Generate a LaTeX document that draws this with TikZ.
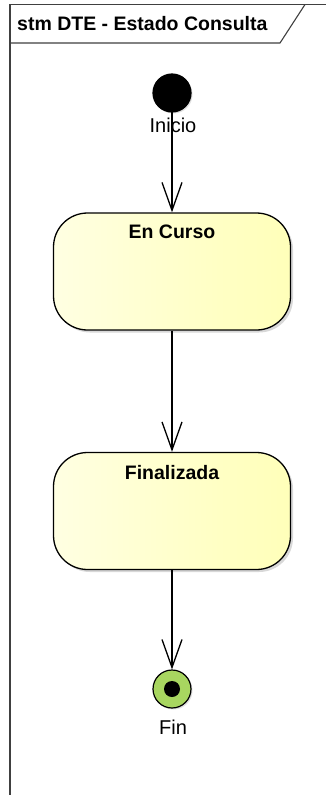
\documentclass[tikz,border=0pt]{standalone}
\usepackage{fontspec}
\setmainfont{Liberation Sans}
\usetikzlibrary{arrows.meta,shadows}
\definecolor{finalgreen}{RGB}{168,214,96}
\pgfdeclarehorizontalshading{statefill}{100bp}{%
  color(0bp)=(rgb,255:red,240;green,240;blue,196);
  color(10bp)=(rgb,255:red,252;green,252;blue,226);
  color(18bp)=(rgb,255:red,255;green,255;blue,232);
  color(60bp)=(rgb,255:red,255;green,255;blue,196);
  color(100bp)=(rgb,255:red,255;green,255;blue,168)}
\tikzset{
  statebox/.style={draw=black, line width=1.3pt, rounded corners=34pt,
    minimum width=237pt, minimum height=117pt, inner sep=0pt,
    shading=statefill,
    drop shadow={shadow xshift=2.5pt, shadow yshift=-2.5pt, fill=black!25, opacity=0.6}},
  statetitle/.style={font=\bfseries\fontsize{19.5}{22}\selectfont, anchor=center},
  pseudo/.style={circle, draw=black, line width=1.2pt, minimum size=38pt, inner sep=0pt,
    drop shadow={shadow xshift=1.5pt, shadow yshift=-1.5pt, fill=black!20, opacity=0.6}},
  caption/.style={font=\fontsize{20}{22}\selectfont, inner sep=0pt},
  flow/.style={draw=black, line width=1.4pt, -{Straight Barb[length=28pt,width=20pt,line width=1.3pt]}},
  frameline/.style={draw=black!75, line width=1.1pt}
}
\begin{document}
\begin{tikzpicture}[x=1pt,y=-1pt]
  \useasboundingbox (0,0) rectangle (326,795);
  \fill[white] (0,0) rectangle (326,795);
  % diagram frame with its name tab
  \begin{scope}
    \clip (0,0) rectangle (326,795);
    \draw[frameline] (10,800) -- (10,4.5) -- (330,4.5);
    \draw[frameline] (10,43) -- (280,43) -- (305,4.5);
  \end{scope}
  \node[font=\bfseries\fontsize{19.5}{22}\selectfont, anchor=west, inner sep=0pt] (title) at (17,24) {stm DTE - Estado Consulta};

  % initial pseudo-state
  \node[pseudo, fill=black] (inicio) at (172,93) {};
  \node[caption] (inicioLbl) at (173,125) {Inicio};

  % states
  \node[statebox] (curso) at (172,271.5) {};
  \node[statetitle] (cursoT) at (172,232) {En Curso};
  \node[statebox] (fin) at (172,511) {};
  \node[statetitle] (finT) at (172,473) {Finalizada};

  % final state
  \node[pseudo, fill=finalgreen, minimum size=38pt] (final) at (172,689) {};
  \node[circle, fill=black, minimum size=16pt, inner sep=0pt] (finalDot) at (final.center) {};
  \node[caption] (finalLbl) at (173,727) {Fin};

  % transitions
  \draw[flow] (inicio.center) -- (curso.north);
  \draw[flow] (curso.south) -- (fin.north);
  \draw[flow] (fin.south) -- (final.north);
\end{tikzpicture}
\end{document}
